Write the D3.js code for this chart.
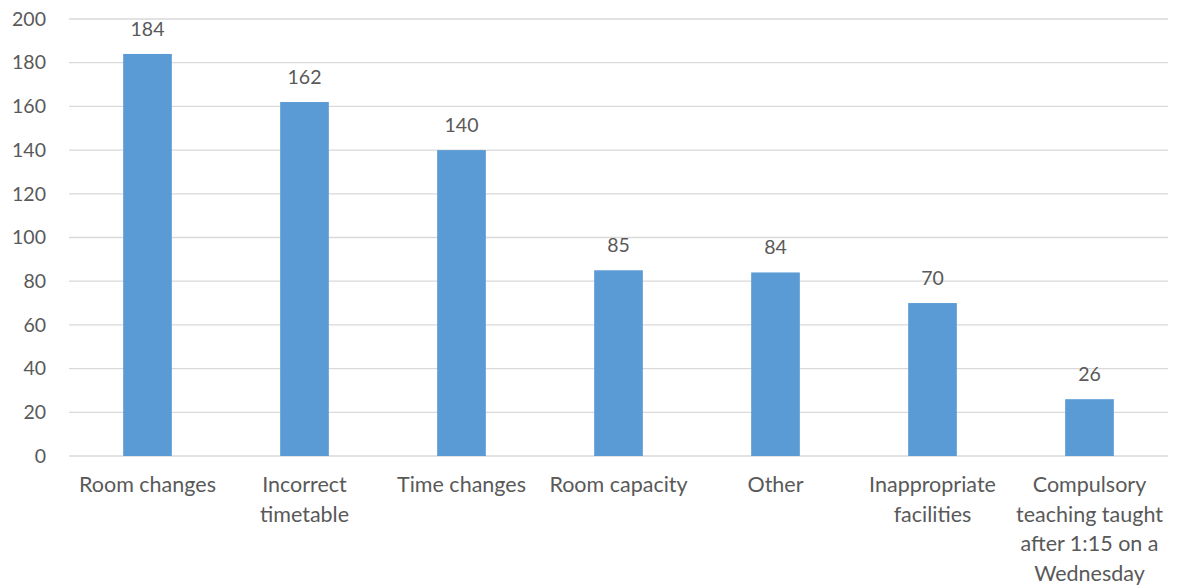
<!DOCTYPE html>
<html>
<head>
<meta charset="utf-8">
<script src="https://cdn.jsdelivr.net/npm/d3@7"></script>
<style>
  html, body { margin: 0; padding: 0; background: #fff; }
  svg { display: block; }
  text { font-family: Lato, "Open Sans", sans-serif; fill: #595959; }
</style>
</head>
<body>
<svg id="chart" width="1178" height="587"></svg>
<script>
// Reported timetabling issues
const categories = [
  "Room changes",
  "Incorrect timetable",
  "Time changes",
  "Room capacity",
  "Other",
  "Inappropriate facilities",
  "Compulsory teaching taught after 1:15 on a Wednesday"
];
const counts = [184, 162, 140, 85, 84, 70, 26];
const yTicks = [0, 20, 40, 60, 80, 100, 120, 140, 160, 180, 200];

const svg = d3.select("#chart");
const margin = { left: 69, right: 10, top: 19, bottom: 131 };
const W = 1178, H = 587;

const x = d3.scaleBand()
  .domain(categories)
  .range([margin.left, W - margin.right])
  .paddingInner(0.69)
  .paddingOuter(0.345);

const y = d3.scaleLinear()
  .domain([0, 200])
  .range([H - margin.bottom, margin.top]);

// Horizontal gridlines
svg.append("g")
  .selectAll("line")
  .data(yTicks)
  .join("line")
  .attr("x1", margin.left)
  .attr("x2", W - margin.right)
  .attr("y1", d => y(d))
  .attr("y2", d => y(d))
  .attr("stroke", "#d9d9d9")
  .attr("stroke-width", 1.3);

// Y axis labels
const yAxis = d3.axisLeft(y).tickValues(yTicks).tickSize(0).tickPadding(0);
svg.append("g")
  .attr("transform", `translate(46,0)`)
  .call(yAxis)
  .call(g => g.select(".domain").remove())
  .call(g => g.selectAll("text")
    .attr("font-size", 19.5)
    .attr("font-family", "Lato, 'Open Sans', sans-serif")
    .attr("fill", "#595959"));

// Bars
svg.append("g")
  .selectAll("rect")
  .data(counts)
  .join("rect")
  .attr("x", (d, i) => x(categories[i]))
  .attr("width", x.bandwidth())
  .attr("y", d => y(d))
  .attr("height", d => y(0) - y(d))
  .attr("fill", "#5b9bd5");

// Value labels
svg.append("g")
  .selectAll("text")
  .data(counts)
  .join("text")
  .attr("x", (d, i) => x(categories[i]) + x.bandwidth() / 2)
  .attr("y", d => y(d) - 18)
  .attr("text-anchor", "middle")
  .attr("font-size", 19.5)
  .text(d => d);

// Category labels, wrapped to the band width
const xAxis = d3.axisBottom(x).tickSize(0).tickPadding(0);
const xg = svg.append("g")
  .attr("transform", `translate(0,${y(0)})`)
  .call(xAxis)
  .call(g => g.select(".domain").remove());

xg.selectAll("text")
  .attr("font-size", 21.5)
  .attr("font-family", "Lato, 'Open Sans', sans-serif")
  .attr("fill", "#595959")
  .attr("dy", null)
  .attr("y", 0)
  .each(function(d) {
    const t = d3.select(this);
    const words = d.split(" ");
    t.text(null);
    const maxW = 155;
    let lines = [], line = [];
    const probe = t.append("tspan");
    words.forEach(w => {
      const trial = line.concat(w).join(" ");
      probe.text(trial);
      if (probe.node().getComputedTextLength() > maxW && line.length) {
        lines.push(line.join(" "));
        line = [w];
      } else {
        line.push(w);
      }
    });
    lines.push(line.join(" "));
    probe.remove();
    lines.forEach((l, i) => {
      t.append("tspan")
        .attr("x", 0)
        .attr("y", 36 + i * 29.5)
        .text(l);
    });
  });
</script>
</body>
</html>
